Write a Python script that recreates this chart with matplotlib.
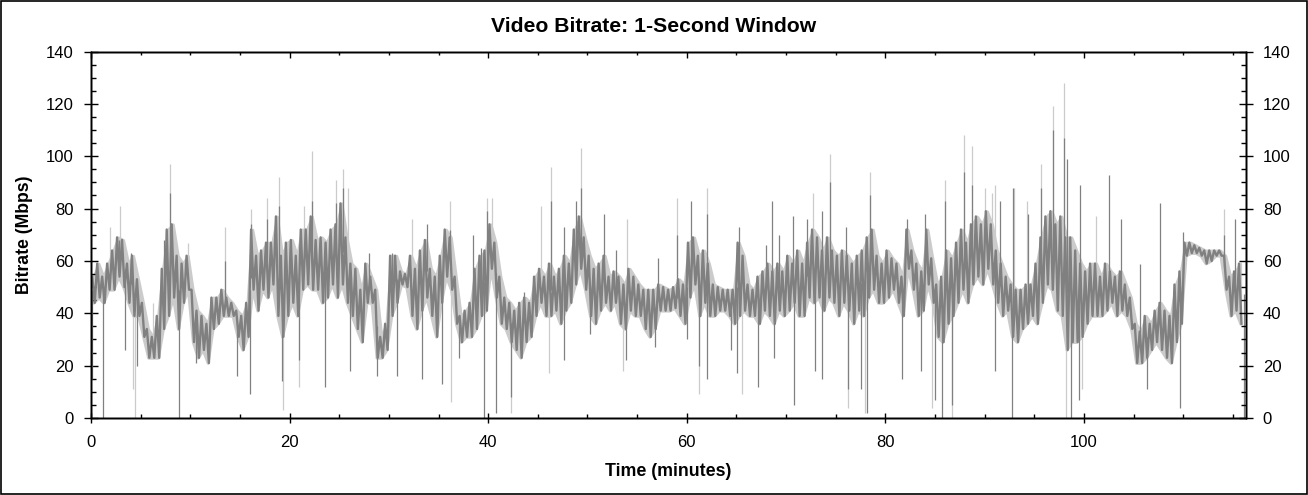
import numpy as np
import matplotlib
matplotlib.use("Agg")
import matplotlib.pyplot as plt
from matplotlib.ticker import MultipleLocator
from matplotlib.patches import Rectangle

plt.rcParams['font.family'] = ['Liberation Sans', 'DejaVu Sans']

# ---- data, time in minutes, bitrate in Mbps ----
# min / max of the dense trace in each half-minute bin, starting at t = 0
bin_minutes = 0.5
band_lo = [44, 46, 44, 49, 49, 54, 50, 44, 39, 39, 31, 23, 23, 23, 34, 39, 46, 34, 44, 49,
           29, 23, 26, 21, 34, 36, 39, 39, 39, 31, 26, 31, 49, 41, 49, 46, 51, 39, 31, 39,
           44, 39, 49, 51, 49, 49, 44, 46, 51, 46, 51, 44, 39, 34, 29, 44, 44, 23, 23, 26,
           39, 44, 51, 50, 39, 34, 41, 46, 39, 31, 44, 54, 49, 36, 29, 31, 31, 34, 39, 41,
           57, 46, 36, 34, 29, 26, 23, 29, 31, 39, 44, 39, 39, 41, 36, 41, 44, 51, 57, 49,
           39, 36, 41, 44, 41, 44, 36, 34, 41, 39, 39, 34, 31, 34, 41, 41, 41, 42, 39, 36,
           46, 51, 39, 44, 39, 39, 41, 41, 39, 36, 39, 41, 39, 39, 36, 41, 39, 36, 41, 39,
           41, 44, 39, 39, 46, 44, 46, 41, 46, 44, 39, 44, 41, 36, 41, 39, 46, 49, 44, 44,
           46, 49, 44, 39, 57, 49, 39, 41, 51, 44, 31, 29, 36, 39, 44, 49, 44, 51, 54, 51,
           57, 51, 44, 39, 41, 31, 29, 34, 36, 39, 36, 44, 51, 49, 41, 39, 26, 29, 29, 31,
           36, 39, 39, 39, 41, 44, 39, 41, 39, 34, 21, 21, 23, 26, 29, 26, 23, 21, 29, 36,
           62, 63, 63, 62, 59, 60, 62, 62, 49, 39, 41, 36]
band_hi = [54, 59, 54, 59, 64, 69, 68, 59, 62, 53, 44, 34, 31, 39, 57, 72, 74, 62, 59, 62,
           49, 41, 39, 36, 46, 46, 49, 46, 44, 41, 39, 44, 72, 62, 64, 67, 67, 77, 62, 67,
           68, 62, 72, 72, 77, 68, 69, 67, 72, 74, 82, 69, 59, 57, 49, 59, 54, 49, 31, 36,
           62, 62, 56, 55, 62, 57, 64, 68, 57, 54, 62, 72, 69, 54, 39, 41, 44, 57, 62, 64,
           74, 67, 54, 46, 44, 41, 44, 46, 44, 54, 57, 54, 59, 54, 57, 62, 59, 72, 77, 69,
           62, 57, 59, 62, 54, 56, 54, 51, 57, 54, 51, 49, 49, 49, 51, 50, 49, 50, 53, 51,
           67, 69, 62, 64, 59, 51, 50, 49, 49, 49, 67, 62, 51, 49, 54, 56, 59, 56, 59, 56,
           62, 59, 64, 59, 67, 72, 69, 64, 69, 64, 62, 64, 62, 59, 62, 64, 69, 72, 62, 59,
           64, 61, 59, 54, 72, 64, 59, 56, 72, 61, 51, 54, 64, 61, 67, 72, 67, 74, 77, 74,
           79, 74, 64, 59, 54, 51, 49, 49, 51, 51, 59, 69, 77, 79, 74, 77, 69, 69, 64, 59,
           56, 59, 59, 54, 59, 56, 54, 56, 51, 46, 36, 33, 39, 36, 41, 44, 41, 39, 51, 56,
           67, 67, 66, 65, 64, 64, 64, 64, 62, 54, 56, 59]

# peaks (dark trace)
dark_up_t = [2.8, 4.0, 7.4, 8.0, 13.5, 16.1, 17.7, 18.9, 22.3, 24.7, 25.4, 28.0, 30.3, 33.8, 36.2,
             38.5, 39.3, 39.9, 43.6, 46.3, 47.6, 48.8, 49.4, 51.7, 52.9, 57.1, 59.0, 60.4, 62.0, 65.3,
             68.0, 68.6, 69.3, 70.7, 72.1, 73.6, 74.4, 76.0, 78.5, 82.2, 84.0, 86.0, 87.9, 88.7, 91.6,
             92.9, 94.4, 95.7, 96.9, 98.0, 98.3, 99.6, 102.5, 103.7, 105.7, 107.7, 110.0, 114.1, 115.2]
dark_up_v = [68, 63, 68, 86, 60, 74, 76, 81, 83, 82, 88, 63, 63, 74, 72,
             70, 65, 79, 48, 83, 73, 83, 88, 78, 64, 61, 70, 83, 78, 73,
             66, 83, 70, 77, 76, 79, 90, 73, 85, 76, 78, 83, 94, 89, 83,
             88, 78, 88, 110, 107, 99, 89, 93, 76, 59, 82, 71, 70, 76]
# peaks (light trace)
light_up_t = [1.9, 2.9, 6.2, 8.0, 9.8, 13.5, 16.1, 17.7, 18.9, 21.5, 22.3, 24.7, 25.4, 25.9, 32.3,
              36.2, 39.9, 40.4, 45.3, 46.3, 49.4, 54.0, 59.0, 62.0, 72.7, 74.4, 78.5, 86.0, 87.9, 88.7,
              90.0, 90.7, 91.1, 93.0, 94.3, 95.7, 96.9, 98.0, 101.2, 114.1]
light_up_v = [73, 81, 44, 97, 67, 73, 80, 84, 92, 81, 102, 91, 95, 88, 76,
              83, 84, 84, 81, 96, 103, 76, 84, 88, 86, 101, 94, 91, 108, 104,
              88, 86, 89, 88, 83, 97, 119, 128, 77, 80]
# dips (dark trace)
dark_dn_t = [0.1, 1.2, 3.4, 4.6, 8.9, 10.6, 14.7, 16.0, 19.2, 20.9, 23.6, 26.1, 28.8, 30.8, 33.3, 35.4,
             37.1, 39.6, 40.8, 42.3, 47.6, 50.3, 53.9, 56.8, 60.0, 61.2, 62.0, 64.5, 65.1, 67.2,
             68.8, 70.8, 72.9, 73.6, 76.2, 77.6, 78.2, 81.7, 83.6, 85.0, 85.7, 86.7, 91.1, 92.8,
             98.7, 99.5, 106.4, 109.7, 116.1]
dark_dn_v = [15, 0, 26, 20, 0, 21, 16, 9, 14, 22, 12, 18, 16, 16, 15, 13,
             23, 0, 2, 8, 22, 32, 22, 27, 30, 20, 15, 26, 17, 12,
             23, 5, 18, 15, 11, 11, 2, 15, 18, 7, 0, 5, 18, 0,
             0, 7, 11, 4, 0]
# dips (light trace)
light_dn_t = [4.4, 4.2, 19.3, 20.9, 36.3, 42.3, 46.1, 53.6, 61.2, 65.6, 76.2, 78.0, 84.7, 86.7, 98.2, 99.8]
light_dn_v = [0, 11, 3, 12, 6, 2, 17, 18, 9, 9, 4, 2, 4, 0, 0, 11]

x_ticks = [0, 20, 40, 60, 80, 100]
y_ticks = [0, 20, 40, 60, 80, 100, 120, 140]

DARK = '#808080'
LIGHT = '#cbcbcb'

W, H = 1308, 495
fig = plt.figure(figsize=(W / 100, H / 100), dpi=100)
ax = fig.add_axes([91 / W, 77 / H, (1245.7 - 91) / W, (418 - 51.5) / H])

lo = np.array(band_lo, float)
hi = np.array(band_hi, float)
t0 = np.arange(len(lo)) * bin_minutes
t_mid = t0 + bin_minutes / 2
mid = (lo + hi) / 2
# min/max per bin drawn as an up-down trace inside each bin
xs = np.empty(2 * len(lo))
ys = np.empty(2 * len(lo))
xs[0::2] = t0 + bin_minutes * 0.25
xs[1::2] = t0 + bin_minutes * 0.75
ys[0::2] = hi
ys[1::2] = lo

# light layer: envelope of the trace and light spikes
ax.fill_between(t_mid, lo, hi, color=LIGHT, ec=LIGHT, lw=2.0, zorder=1)
ax.vlines(light_up_t, np.interp(light_up_t, t_mid, mid), light_up_v, color=LIGHT, lw=0.9, zorder=1)
ax.vlines(light_dn_t, np.interp(light_dn_t, t_mid, mid), light_dn_v, color=LIGHT, lw=0.9, zorder=1)
# dark layer
ax.plot(xs, ys, color=DARK, lw=1.7, zorder=2)
ax.vlines(dark_up_t, np.interp(dark_up_t, t_mid, mid), dark_up_v, color=DARK, lw=0.9, zorder=2)
ax.vlines(dark_dn_t, np.interp(dark_dn_t, t_mid, mid), dark_dn_v, color=DARK, lw=0.9, zorder=2)

ax.set_xlim(0, 116.3)
ax.set_ylim(0, 140)
ax.set_xticks(x_ticks)
ax.set_yticks(y_ticks)
ax.xaxis.set_minor_locator(MultipleLocator(5))
ax.yaxis.set_minor_locator(MultipleLocator(5))
for s in ax.spines.values():
    s.set_linewidth(1.0)
ax.tick_params(axis='x', which='major', direction='inout', length=7, width=1, pad=8.5, labelsize=12, top=False)
ax.tick_params(axis='x', which='minor', direction='in', length=3, width=1, top=False)
ax.tick_params(axis='y', which='major', direction='inout', length=10, width=1, pad=7.3, labelsize=12, right=False)
ax.tick_params(axis='y', which='minor', direction='in', length=3.4, width=1, right=False)

axt = ax.twiny()
axt.set_xlim(ax.get_xlim())
axt.set_xticks(x_ticks)
axt.xaxis.set_minor_locator(MultipleLocator(5))
axt.tick_params(axis='x', which='major', direction='in', length=4, width=1, labeltop=False)
axt.tick_params(axis='x', which='minor', direction='in', length=2.5, width=1)

axr = ax.twinx()
axr.set_ylim(ax.get_ylim())
axr.set_yticks(y_ticks)
axr.yaxis.set_minor_locator(MultipleLocator(5))
axr.tick_params(axis='y', which='major', direction='inout', length=10, width=1, pad=7.3, labelsize=12)
axr.tick_params(axis='y', which='minor', direction='in', length=3.4, width=1)
for a in (axt, axr):
    for s in a.spines.values():
        s.set_linewidth(1.0)

fig.text(0.5, 1 - 31.7 / H, 'Video Bitrate: 1-Second Window', ha='center', va='baseline',
         fontsize=15.2, fontweight='bold')
fig.text(668 / W, 1 - 476.5 / H, 'Time (minutes)', ha='center', va='baseline',
         fontsize=12.8, fontweight='bold')
fig.text(24.7 / W, 1 - 234.3 / H, 'Bitrate (Mbps)', ha='center', va='center', rotation=90,
         fontsize=12.7, fontweight='bold')

fig.add_artist(Rectangle((0.5 / W, 1.0 / H), 1306 / W, 493.5 / H, transform=fig.transFigure,
                         fill=False, ec='black', lw=1.2))

fig.savefig('out.png', dpi=100)
